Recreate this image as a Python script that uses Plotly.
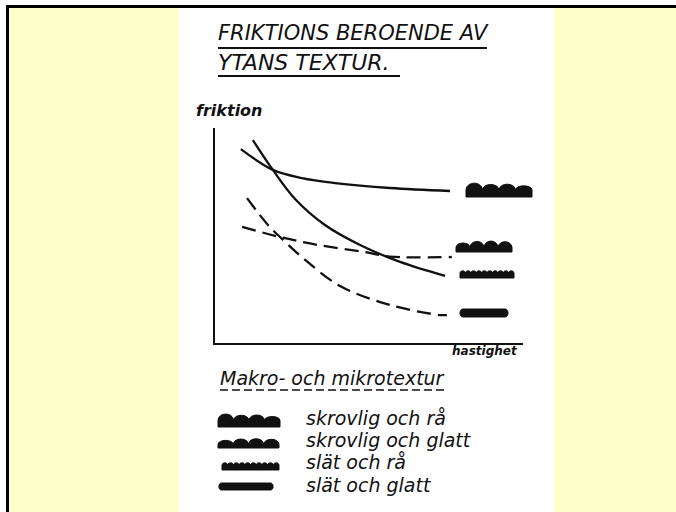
import plotly.graph_objects as go

W, H = 676, 512

# ---------------- data (friktion vs hastighet, arbitrary units 0-10) -------------
speed_rough_rough = [0.84, 1.88, 2.82, 3.90, 5.68, 7.63]
fric_rough_rough = [9.02, 8.05, 7.67, 7.44, 7.21, 7.07]

speed_smooth_rough = [1.23, 1.88, 2.60, 3.57, 4.71, 6.01, 7.47]
fric_smooth_rough = [9.44, 8.05, 6.70, 5.49, 4.56, 3.77, 3.12]

speed_rough_glatt = [0.88, 2.11, 3.34, 4.87, 5.68, 7.69]
fric_rough_glatt = [5.40, 4.93, 4.56, 4.23, 4.02, 4.00]

speed_smooth_glatt = [1.04, 1.72, 2.11, 2.86, 4.06, 5.68, 7.31, 7.53]
fric_smooth_glatt = [6.74, 5.49, 4.93, 3.95, 2.65, 1.77, 1.30, 1.30]

title_lines = ["FRIKTIONS BEROENDE AV", "YTANS TEXTUR."]
y_label = "friktion"
x_label = "hastighet"
legend_title = "Makro- och mikrotextur"
legend_labels = ["skrovlig och rå", "skrovlig och glatt", "slät och rå", "slät och glatt"]

INK = "#111111"
YELLOW = "#FFFFCC"
FONT = "DejaVu Sans"


def X(px):
    return px / W


def Y(py):
    return 1 - py / H


def P(px, py):
    return f"{X(px):.5f},{Y(py):.5f}"


def bump_path(x0, x1, ybot, yvalley, ytop, heights):
    n = len(heights)
    w = (x1 - x0) / n
    d = f"M {P(x0, ybot)} L {P(x0, yvalley)} "
    for i, h in enumerate(heights):
        xs = x0 + i * w
        yt = yvalley - h * (yvalley - ytop)
        d += f"C {P(xs + 0.05 * w, yt)} {P(xs + 0.95 * w, yt)} {P(xs + w, yvalley)} "
    d += f"L {P(x1, ybot)} Z"
    return d


def bar_path(x0, x1, y0, y1):
    r = (y1 - y0) / 2
    return (f"M {P(x0 + r, y0)} L {P(x1 - r, y0)} "
            f"C {P(x1, y0)} {P(x1, y1)} {P(x1 - r, y1)} "
            f"L {P(x0 + r, y1)} C {P(x0, y1)} {P(x0, y0)} {P(x0 + r, y0)} Z")


def texture_shapes(kind, x0, x1, y0, y1):
    if kind == 0:
        d = bump_path(x0, x1, y1, y0 + 0.55 * (y1 - y0), y0, [1.0, 0.8, 0.85, 0.6])
    elif kind == 1:
        d = bump_path(x0, x1, y1, y0 + 0.65 * (y1 - y0), y0, [0.7, 0.95, 1.0, 0.9])
    elif kind == 2:
        d = bump_path(x0, x1, y1, y0 + 0.4 * (y1 - y0), y0, [1] * 10)
    else:
        d = bar_path(x0, x1, y0, y1)
    return dict(type="path", xref="paper", yref="paper", path=d,
                fillcolor=INK, line=dict(color=INK, width=1), layer="above")


fig = go.Figure()

curves = [
    (speed_rough_rough, fric_rough_rough, "solid"),
    (speed_smooth_rough, fric_smooth_rough, "solid"),
    (speed_rough_glatt, fric_rough_glatt, "14px,7px"),
    (speed_smooth_glatt, fric_smooth_glatt, "14px,7px"),
]
for xs, ys, dash in curves:
    fig.add_trace(go.Scatter(x=xs, y=ys, mode="lines", hoverinfo="skip",
                             line=dict(color=INK, width=2.3, dash=dash, shape="spline", smoothing=1.0),
                             showlegend=False))

shapes = [
    # yellow side panels
    dict(type="rect", xref="paper", yref="paper", x0=X(9), x1=X(179), y0=0, y1=Y(8),
         fillcolor=YELLOW, line=dict(width=0), layer="below"),
    dict(type="rect", xref="paper", yref="paper", x0=X(554), x1=1, y0=0, y1=Y(8),
         fillcolor=YELLOW, line=dict(width=0), layer="below"),
    # black frame
    dict(type="rect", xref="paper", yref="paper", x0=X(6), x1=1, y0=Y(8), y1=Y(5),
         fillcolor="black", line=dict(width=0), layer="below"),
    dict(type="rect", xref="paper", yref="paper", x0=X(6), x1=X(9), y0=0, y1=Y(5),
         fillcolor="black", line=dict(width=0), layer="below"),
    # title underlines
    dict(type="line", xref="paper", yref="paper", x0=X(218), x1=X(487), y0=Y(48), y1=Y(48),
         line=dict(color=INK, width=2)),
    dict(type="line", xref="paper", yref="paper", x0=X(218), x1=X(400), y0=Y(76), y1=Y(76),
         line=dict(color=INK, width=2)),
    # dashed underline under the legend heading
    dict(type="line", xref="paper", yref="paper", x0=X(220), x1=X(448), y0=Y(390), y1=Y(390),
         line=dict(color=INK, width=1.5, dash="8px,4px")),
]

# texture symbols at curve ends
shapes += [
    texture_shapes(0, 466, 532, 181, 197),
    texture_shapes(1, 456, 512, 239, 252),
    texture_shapes(2, 460, 514, 270, 278),
    texture_shapes(3, 459, 509, 309, 317),
]
# legend symbols
shapes += [
    texture_shapes(0, 218, 280, 412, 427),
    texture_shapes(1, 218, 279, 437, 448),
    texture_shapes(2, 222, 279, 462, 470),
    texture_shapes(3, 218, 274, 483, 490),
]

annotations = [
    dict(x=X(216), y=Y(33), text=f"<i>{title_lines[0]}</i>", xanchor="left", yanchor="middle",
         font=dict(family=FONT, size=21, color=INK)),
    dict(x=X(216), y=Y(62), text=f"<i>{title_lines[1]}</i>", xanchor="left", yanchor="middle",
         font=dict(family=FONT, size=22, color=INK)),
    dict(x=X(194), y=Y(110), text=f"<b><i>{y_label}</i></b>", xanchor="left", yanchor="middle",
         font=dict(family=FONT, size=16, color=INK)),
    dict(x=X(520), y=Y(351), text=f"<b><i>{x_label}</i></b>", xanchor="right", yanchor="middle",
         font=dict(family=FONT, size=12, color=INK)),
    dict(x=X(218), y=Y(378), text=f"<i>{legend_title}</i>", xanchor="left", yanchor="middle",
         font=dict(family=FONT, size=19, color=INK)),
]
for i, (lab, yc) in enumerate(zip(legend_labels, [418, 440, 462, 485])):
    annotations.append(dict(x=X(304), y=Y(yc), text=f"<i>{lab}</i>", xanchor="left", yanchor="middle",
                            font=dict(family=FONT, size=19, color=INK)))
for a in annotations:
    a.update(xref="paper", yref="paper", showarrow=False)

fig.update_layout(
    width=W, height=H,
    margin=dict(l=0, r=0, t=0, b=0, pad=0, autoexpand=False),
    paper_bgcolor="white", plot_bgcolor="rgba(0,0,0,0)",
    shapes=shapes, annotations=annotations,
    xaxis=dict(domain=[X(215), X(523)], range=[0, 10], showline=True, linecolor=INK, linewidth=2,
               showgrid=False, zeroline=False, showticklabels=False, ticks="", fixedrange=True),
    yaxis=dict(domain=[Y(343), Y(128)], range=[0, 10], showline=True, linecolor=INK, linewidth=2,
               showgrid=False, zeroline=False, showticklabels=False, ticks="", fixedrange=True),
    showlegend=False,
)

fig.write_html("out.html", config={"displayModeBar": False},
               post_script="document.body.style.margin='0';document.body.style.overflow='hidden';")
